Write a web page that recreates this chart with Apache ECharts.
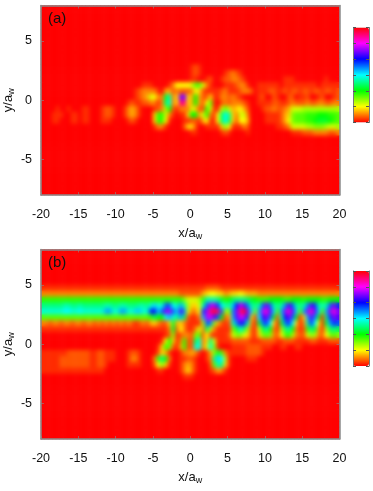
<!DOCTYPE html>
<html><head><meta charset="utf-8">
<style>html,body{margin:0;padding:0;background:#fff}
.layer{position:absolute;left:0;top:0;width:373px;height:491px}
.soft{position:absolute;backdrop-filter:blur(2px);-webkit-backdrop-filter:blur(2px);pointer-events:none}</style>
<script src="https://cdn.jsdelivr.net/npm/echarts@6/dist/echarts.min.js"></script></head>
<body><div id="c" class="layer"></div>
<div class="soft" style="left:41px;top:6px;width:298px;height:189px"></div>
<div class="soft" style="left:41px;top:250px;width:298px;height:189px"></div>
<div id="t" class="layer"></div>
<script>
// Each character = base-36 level (0 red → hue 10° per level), one cell = 0.5 × 0.5 units.
// Rows run from y = 7.75 down to y = -7.75; groups of ten cover x = -20…20 in steps of 5.
var rowsA = [
"","","","","","","","","","",
"0000000000 0000000000 0000000000 0000000000 1210000000",
"0000000000 0000000000 0000000000 0000000000 1210000001 2321000000",
"0000000000 0000000000 0000000000 0000000000 1100120012 2332100000 0000011100 0000001000",
"0000000000 0000000000 0000000111 0000136666 7aa7310001 1123310011 1111011111 1111011111",
"0000000000 0000000000 0000012333 3104423222 3652111123 1112332011 1221121221 2212212212",
"0000000000 0000000000 0000012347 633dg35rr5 4c42251133 2321000012 0021002201 1200120012",
"0000000000 0000000000 0001211223 313eh35xx5 4c426a1023 2333210011 1122112322 2322332233",
"0000100100 0110001221 0013431000 1238c21333 7522b7117a 7456420001 2232234777 8888888888",
"0001110011 0110001221 0013431000 5bb7310115 cc47b316ei f537730000 11112459aa abbbcccbba",
"0001100011 0110001110 0001210000 5bb6100011 22146116ei e526640000 11112469aa abbcdddcba",
"0000000000 0000000000 0000000000 1331000025 5200111159 6111320000 0001123777 7889998778",
"0000000000 0000000000 0000000000 0000000000 1100000012 1000010000 0000000111 2223333223",
"","","","","","","","","",""
];
var rowsB = [
"","","","","","",
"1111111111 1111111111 1111111111 1111111111 1111222211 1111111111 1111111111 1111111111",
"3333333333 3333333333 3333333333 3333333222 2224566553 4556544433 3333333333 3333333333",
"bbbbbbbbbb bbbbbbbbbb bbbbbbbbbb bbbbbbbb97 778bgggfdb cefffedcbb bccccbbccc bccccbbccc",
"ffffffggff gffffffggf fggfffggfh jhhmmigkg8 557gmssnig gjotqlgfgm rmgfglqmgf glqngggmrn",
"hhhhhhiihh ihhhhhhkkh hkkhhjjhhn ojmrsmjql7 336nsxzxm8 9lrxzrj9ks vqjakrvqja krvqjakrvr",
"aaaaaaaaaa aaaaaaaaaa aaaaaaaaab eccikhfke2 113kstqmc2 4kqtsn71ip rmd2gormd1 5kqld1fnrq",
"3323323323 3233232323 2323212324 53225d4531 1118ml9421 2glpng31dl ni51dlni51 3gni71dknm",
"1111111111 1111111111 1111111111 11113d2631 1373e83111 19dhe8217d gc318egc31 2bfd418efe",
"0000000000 0000000000 0000000000 0001291233 29a2621111 2799752159 a9326ab832 27983269a9",
"0000000000 0000000000 0000000000 0016c513b2 2eh35f7111 1222221112 2221122211 1122111222",
"0000000000 0000000000 0000000000 015b9214b2 2hh37h9100 0111122221 1100110011 0000000000",
"1111111222 2221122111 0001221000 0254100133 4310149da3 1111122221 0000000000 0000000000",
"1111122222 2221122111 0001331000 3bfc300112 210013fji8 1000011100 0000000000 0000000000",
"1111122222 2221122100 0001111000 2695100134 310002agf5 1000000000 0000000000 0000000000",
"1111111111 1111111000 0000000000 0110000135 3100012431 0000000000 0000000000 0000000000",
"0000000000 0000000000 0000000000 0000000011 1000000000",
"","","","","","","","","",""
];
var xTicks = [-20,-15,-10,-5,0,5,10,15,20];
var yTicks = [-5,0,5];
var hueStops = ['#ff0000','#ffff00','#00ff00','#00ffff','#0000ff','#ff00ff','#ff0000'];
var labelA = '(a)', labelB = '(b)', xName = 'x/a{s|w}', yName = 'y/a{s|w}';

var xCells = [], yCells = [];
for (var i = 0; i < 80; i++) xCells.push(String(-19.75 + i * 0.5));
for (var j = 0; j < 32; j++) yCells.push(String(7.75 - j * 0.5));
function cells(rows) {
  var out = [];
  rows.forEach(function (row, r) {
    var s = row.replace(/ /g, '').padEnd(80, '0');
    for (var c = 0; c < 80; c++) out.push([c, r, parseInt(s[c], 36)]);
  });
  return out;
}
var txt = '#111', frame = '#8a8a8a', font = 'Liberation Sans';
var rich = {s: {fontSize: 9, verticalAlign: 'bottom', padding: [7, 0, 0, 0], fontFamily: font, color: txt}};
var plots = [{top: 5.5, h: 189.5}, {top: 249.5, h: 189.5}];
var bars = [{top: 27.5, h: 95}, {top: 271, h: 95}];

// lower layer: cells and colour bars
var gridC = [], xC = [], yC = [], series = [], visualMap = [];
// upper layer: axes, frames, panel letters
var gridT = [], xT = [], yT = [], title = [];
function valX(g, pos, show) {
  return {type: 'value', gridIndex: g, position: pos, min: -20, max: 20, interval: 5,
    name: show ? xName : '', nameLocation: 'middle', nameGap: 30, nameMoveOverlap: false,
    nameTextStyle: {fontSize: 13, color: txt, fontFamily: font, rich: rich},
    axisLine: {show: true, onZero: false, lineStyle: {color: frame, width: 1.5}},
    axisTick: {show: true, inside: true, length: 3, lineStyle: {color: frame, width: 0.6}},
    axisLabel: {show: show, fontSize: 12.5, color: txt, fontFamily: font, margin: 13, showMinLabel: true, showMaxLabel: true},
    splitLine: {show: false}};
}
function valY(g, pos, show) {
  return {type: 'value', gridIndex: g, position: pos, min: -8, max: 8,
    name: show ? yName : '', nameLocation: 'middle', nameGap: 25, nameRotate: 90, nameMoveOverlap: false,
    nameTextStyle: {fontSize: 13, color: txt, fontFamily: font, rich: rich},
    axisLine: {show: true, onZero: false, lineStyle: {color: frame, width: 1.5}},
    axisTick: {show: true, inside: true, length: 3, customValues: yTicks, lineStyle: {color: frame, width: 0.6}},
    axisLabel: {show: show, fontSize: 12.5, color: txt, fontFamily: font, margin: 9, customValues: yTicks},
    splitLine: {show: false}};
}
[rowsA, rowsB].forEach(function (rows, k) {
  var box = {left: 41, width: 298.5, top: plots[k].top, height: plots[k].h, outerBoundsMode: 'none'};
  var g = gridC.length;
  gridC.push(box);
  var xi = xC.length, yi = yC.length;
  xC.push({type: 'category', gridIndex: g, data: xCells, show: false});
  yC.push({type: 'category', gridIndex: g, data: yCells, inverse: true, show: false});
  series.push({type: 'heatmap', name: k ? labelB : labelA, xAxisIndex: xi, yAxisIndex: yi,
    data: cells(rows), progressive: 0, silent: true, animation: false});
  visualMap.push({type: 'continuous', seriesIndex: series.length - 1, min: 0, max: 36, left: 353, top: bars[k].top,
    itemWidth: 16, itemHeight: bars[k].h, calculable: false, text: null, showLabel: false,
    inRange: {color: hueStops}, textStyle: {fontSize: 0}, padding: 0, hoverLink: false, realtime: false});

  var gt = gridT.length;
  gridT.push(box);
  xT.push(valX(gt, 'bottom', true), valX(gt, 'top', false));
  yT.push(valY(gt, 'left', true), valY(gt, 'right', false));
  title.push({text: k ? labelB : labelA, left: 43, top: plots[k].top + 1,
    textStyle: {fontSize: 15, fontWeight: 'normal', color: txt, fontFamily: font}});
  // colour-bar frame and its six divisions
  var b = gridT.length;
  gridT.push({left: 353, width: 16, top: bars[k].top, height: bars[k].h, outerBoundsMode: 'none'});
  xT.push({type: 'value', gridIndex: b, min: 0, max: 1, show: false});
  ['left', 'right'].forEach(function (p) {
    yT.push({type: 'value', gridIndex: b, position: p, min: 0, max: 6, interval: 1,
      axisLine: {show: true, onZero: false, lineStyle: {color: '#777', width: 1}},
      axisTick: {show: true, inside: true, length: 3, lineStyle: {color: '#555', width: 1}},
      axisLabel: {show: false}, splitLine: {show: false}});
  });
});
var chart = echarts.init(document.getElementById('c'));
chart.setOption({animation: false, backgroundColor: '#fff', grid: gridC, xAxis: xC, yAxis: yC, series: series, visualMap: visualMap});
var top2 = echarts.init(document.getElementById('t'));
top2.setOption({animation: false, backgroundColor: 'transparent', title: title, grid: gridT, xAxis: xT, yAxis: yT});
</script></body></html>
